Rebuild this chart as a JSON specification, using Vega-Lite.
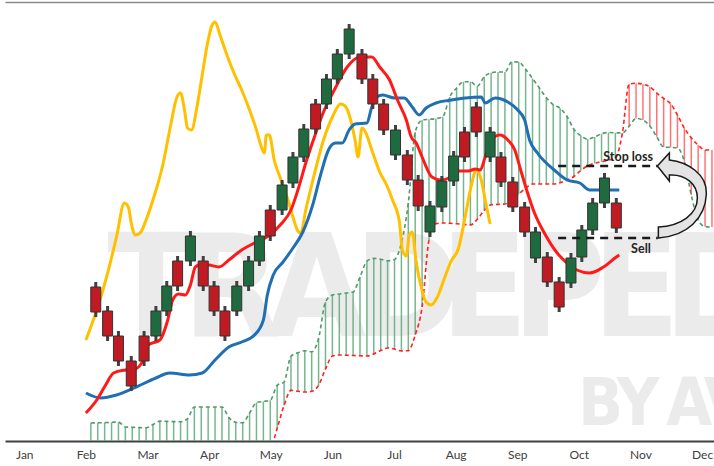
{
  "$schema": "https://vega.github.io/schema/vega-lite/v6.json",
  "width": 709,
  "height": 439,
  "autosize": {"type": "none"},
  "padding": {"left": 5, "top": 2, "right": 0, "bottom": 25},
  "background": "#ffffff",
  "config": {"view": {"stroke": null}},
  "resolve": {"axis": {"x": "independent"}},
  "datasets": {
    "wm1": [
      {"ch": "T", "t": 2.056, "p": 4.2}, {"ch": "R", "t": 3.368, "p": 4.2}, {"ch": "A", "t": 4.744, "p": 4.2},
      {"ch": "D", "t": 6.216, "p": 4.2}, {"ch": "E", "t": 7.464, "p": 4.2}, {"ch": "P", "t": 8.68, "p": 4.2},
      {"ch": "E", "t": 9.928, "p": 4.2}, {"ch": "D", "t": 11.24, "p": 4.2}
    ],
    "wm2": [
      {"ch": "B", "t": 9.352, "p": 0.64}, {"ch": "Y", "t": 9.96, "p": 0.64}, {"ch": "A", "t": 10.792, "p": 0.64}, {"ch": "V", "t": 11.4, "p": 0.64}
    ],
    "cloud": [
      {"t": 1.08, "a": 0.72, "b": -1.16}, {"t": 1.192, "a": 0.728, "b": -1.16}, {"t": 1.304, "a": 0.736, "b": -1.16},
      {"t": 1.416, "a": 0.748, "b": -1.16}, {"t": 1.528, "a": 0.756, "b": -1.16}, {"t": 1.64, "a": 0.56, "b": -1.16},
      {"t": 1.752, "a": 0.548, "b": -1.16}, {"t": 1.864, "a": 0.536, "b": -1.16}, {"t": 1.976, "a": 0.528, "b": -1.16},
      {"t": 2.088, "a": 0.66, "b": -1.16}, {"t": 2.2, "a": 0.796, "b": -1.16}, {"t": 2.312, "a": 0.784, "b": -1.16},
      {"t": 2.424, "a": 0.776, "b": -1.16}, {"t": 2.536, "a": 0.768, "b": -1.16}, {"t": 2.648, "a": 0.892, "b": -1.16},
      {"t": 2.76, "a": 1.36, "b": -1.16}, {"t": 2.872, "a": 1.36, "b": -1.16}, {"t": 2.984, "a": 1.36, "b": -1.16},
      {"t": 3.096, "a": 1.36, "b": -1.16}, {"t": 3.208, "a": 1.36, "b": -1.16}, {"t": 3.32, "a": 0.94, "b": -1.16},
      {"t": 3.432, "a": 0.748, "b": -1.16}, {"t": 3.544, "a": 0.728, "b": -1.16}, {"t": 3.656, "a": 1.12, "b": -1.16},
      {"t": 3.768, "a": 1.536, "b": -1.16}, {"t": 3.88, "a": 1.584, "b": -0.84}, {"t": 3.992, "a": 1.632, "b": -0.4},
      {"t": 4.104, "a": 2.224, "b": 0.504}, {"t": 4.216, "a": 2.36, "b": 1.424}, {"t": 4.328, "a": 3.392, "b": 2.024},
      {"t": 4.44, "a": 3.528, "b": 1.988}, {"t": 4.552, "a": 3.608, "b": 1.96}, {"t": 4.664, "a": 3.568, "b": 1.988},
      {"t": 4.776, "a": 4.104, "b": 2.228}, {"t": 4.888, "a": 5.56, "b": 2.88}, {"t": 5.0, "a": 5.84, "b": 3.396},
      {"t": 5.112, "a": 5.88, "b": 3.44}, {"t": 5.224, "a": 5.92, "b": 3.428}, {"t": 5.336, "a": 5.96, "b": 3.42},
      {"t": 5.448, "a": 6.56, "b": 3.408}, {"t": 5.56, "a": 7.192, "b": 3.4}, {"t": 5.672, "a": 7.304, "b": 3.484},
      {"t": 5.784, "a": 7.272, "b": 3.62}, {"t": 5.896, "a": 7.208, "b": 3.72}, {"t": 6.008, "a": 7.26, "b": 3.68},
      {"t": 6.12, "a": 7.92, "b": 3.604}, {"t": 6.232, "a": 9.52, "b": 3.612}, {"t": 6.344, "a": 12.36, "b": 4.24},
      {"t": 6.456, "a": 12.84, "b": 5.36}, {"t": 6.568, "a": 12.868, "b": 8.04}, {"t": 6.68, "a": 12.896, "b": 8.688},
      {"t": 6.792, "a": 12.968, "b": 8.72}, {"t": 6.904, "a": 13.76, "b": 8.708}, {"t": 7.016, "a": 14.12, "b": 8.688},
      {"t": 7.128, "a": 14.368, "b": 8.664}, {"t": 7.24, "a": 14.372, "b": 8.644}, {"t": 7.352, "a": 14.188, "b": 8.872},
      {"t": 7.464, "a": 14.572, "b": 9.216}, {"t": 7.576, "a": 14.728, "b": 9.448}, {"t": 7.688, "a": 14.76, "b": 9.464},
      {"t": 7.8, "a": 14.76, "b": 9.48}, {"t": 7.912, "a": 15.168, "b": 9.672}, {"t": 8.024, "a": 15.16, "b": 9.872},
      {"t": 8.136, "a": 14.868, "b": 10.112}, {"t": 8.248, "a": 14.504, "b": 10.28}, {"t": 8.36, "a": 14.12, "b": 10.28},
      {"t": 8.472, "a": 13.732, "b": 10.28}, {"t": 8.584, "a": 13.452, "b": 10.28}, {"t": 8.696, "a": 13.308, "b": 10.328},
      {"t": 8.808, "a": 12.98, "b": 10.44}, {"t": 8.92, "a": 12.468, "b": 10.58}, {"t": 9.032, "a": 12.208, "b": 10.824},
      {"t": 9.144, "a": 12.076, "b": 11.008}, {"t": 9.256, "a": 12.16, "b": 11.108}, {"t": 9.368, "a": 12.292, "b": 11.168},
      {"t": 9.48, "a": 12.34, "b": 11.232}, {"t": 9.592, "a": 12.328, "b": 11.32}, {"t": 9.704, "a": 12.316, "b": 12.28},
      {"t": 9.816, "a": 12.588, "b": 14.28}, {"t": 9.928, "a": 12.904, "b": 14.308}, {"t": 10.04, "a": 12.84, "b": 14.268},
      {"t": 10.152, "a": 12.596, "b": 14.172}, {"t": 10.264, "a": 12.172, "b": 13.92}, {"t": 10.376, "a": 11.756, "b": 13.7},
      {"t": 10.488, "a": 11.744, "b": 13.496}, {"t": 10.6, "a": 11.724, "b": 13.04}, {"t": 10.712, "a": 11.176, "b": 12.516},
      {"t": 10.824, "a": 9.84, "b": 12.128}, {"t": 10.936, "a": 8.84, "b": 11.836}, {"t": 11.048, "a": 8.576, "b": 11.64},
      {"t": 11.16, "a": 8.56, "b": 11.64}
    ],
    "chikou": [
      {"t": 1.0, "p": 4.04}, {"t": 1.176, "p": 5.24}, {"t": 1.336, "p": 6.56}, {"t": 1.496, "p": 8.16}, {"t": 1.624, "p": 9.52},
      {"t": 1.688, "p": 9.36}, {"t": 1.736, "p": 8.72}, {"t": 1.8, "p": 8.24}, {"t": 1.88, "p": 8.32}, {"t": 1.976, "p": 8.84},
      {"t": 2.088, "p": 9.64}, {"t": 2.248, "p": 11.04}, {"t": 2.376, "p": 12.64}, {"t": 2.472, "p": 13.72}, {"t": 2.536, "p": 13.92},
      {"t": 2.6, "p": 13.24}, {"t": 2.648, "p": 12.52}, {"t": 2.712, "p": 12.44}, {"t": 2.808, "p": 13.44}, {"t": 2.888, "p": 14.64},
      {"t": 2.968, "p": 15.84}, {"t": 3.048, "p": 16.64}, {"t": 3.096, "p": 16.76}, {"t": 3.176, "p": 16.24}, {"t": 3.288, "p": 15.44},
      {"t": 3.416, "p": 14.64}, {"t": 3.528, "p": 14.04}, {"t": 3.656, "p": 13.24}, {"t": 3.768, "p": 12.44}, {"t": 3.848, "p": 11.76},
      {"t": 3.896, "p": 11.52}, {"t": 3.928, "p": 12.24}, {"t": 3.976, "p": 12.24}, {"t": 4.056, "p": 11.24}, {"t": 4.168, "p": 10.44},
      {"t": 4.28, "p": 9.64}, {"t": 4.36, "p": 8.96}, {"t": 4.44, "p": 8.4}, {"t": 4.488, "p": 8.32}, {"t": 4.568, "p": 9.24},
      {"t": 4.696, "p": 10.56}, {"t": 4.856, "p": 12.04}, {"t": 5.016, "p": 13.04}, {"t": 5.128, "p": 13.48}, {"t": 5.208, "p": 13.4},
      {"t": 5.288, "p": 12.92}, {"t": 5.368, "p": 12.04}, {"t": 5.416, "p": 11.36}, {"t": 5.48, "p": 12.52}, {"t": 5.544, "p": 12.32},
      {"t": 5.64, "p": 11.64}, {"t": 5.768, "p": 10.76}, {"t": 5.88, "p": 10.24}, {"t": 5.976, "p": 9.64}, {"t": 6.088, "p": 8.76},
      {"t": 6.136, "p": 7.64}, {"t": 6.2, "p": 7.4}, {"t": 6.248, "p": 8.24}, {"t": 6.296, "p": 8.36}, {"t": 6.36, "p": 7.16},
      {"t": 6.44, "p": 6.16}, {"t": 6.52, "p": 5.56}, {"t": 6.6, "p": 5.44}, {"t": 6.696, "p": 5.72}, {"t": 6.808, "p": 6.44},
      {"t": 6.92, "p": 7.16}, {"t": 7.048, "p": 7.72}, {"t": 7.16, "p": 9.04}, {"t": 7.256, "p": 10.24}, {"t": 7.336, "p": 10.84},
      {"t": 7.416, "p": 10.44}, {"t": 7.48, "p": 9.64}, {"t": 7.56, "p": 8.68}
    ],
    "kijun": [
      {"t": 1.0, "p": 1.92}, {"t": 1.24, "p": 1.72}, {"t": 1.496, "p": 1.84}, {"t": 1.816, "p": 2.16}, {"t": 2.136, "p": 2.52},
      {"t": 2.36, "p": 2.72}, {"t": 2.68, "p": 2.64}, {"t": 2.888, "p": 2.72}, {"t": 3.096, "p": 3.24}, {"t": 3.32, "p": 3.76},
      {"t": 3.528, "p": 3.96}, {"t": 3.736, "p": 4.24}, {"t": 3.88, "p": 4.84}, {"t": 3.944, "p": 5.84}, {"t": 4.04, "p": 6.64},
      {"t": 4.2, "p": 7.16}, {"t": 4.36, "p": 7.72}, {"t": 4.52, "p": 8.36}, {"t": 4.68, "p": 9.44}, {"t": 4.808, "p": 10.64},
      {"t": 4.936, "p": 11.64}, {"t": 5.048, "p": 11.92}, {"t": 5.16, "p": 11.92}, {"t": 5.272, "p": 12.44}, {"t": 5.368, "p": 12.68},
      {"t": 5.56, "p": 12.72}, {"t": 5.64, "p": 13.36}, {"t": 5.72, "p": 13.76}, {"t": 5.816, "p": 13.84}, {"t": 6.008, "p": 13.72},
      {"t": 6.168, "p": 13.72}, {"t": 6.296, "p": 13.36}, {"t": 6.408, "p": 13.04}, {"t": 6.52, "p": 13.32}, {"t": 6.68, "p": 13.52},
      {"t": 6.936, "p": 13.64}, {"t": 7.16, "p": 13.72}, {"t": 7.416, "p": 13.76}, {"t": 7.48, "p": 13.52}, {"t": 7.64, "p": 13.72},
      {"t": 7.848, "p": 13.56}, {"t": 8.008, "p": 13.24}, {"t": 8.12, "p": 12.84}, {"t": 8.2, "p": 12.04}, {"t": 8.328, "p": 11.52},
      {"t": 8.6, "p": 10.84}, {"t": 8.808, "p": 10.44}, {"t": 9.016, "p": 10.32}, {"t": 9.176, "p": 10.04}, {"t": 9.4, "p": 10.04},
      {"t": 9.656, "p": 10.04}
    ],
    "tenkan": [
      {"t": 1.0, "p": 1.12}, {"t": 1.176, "p": 1.64}, {"t": 1.32, "p": 2.24}, {"t": 1.448, "p": 2.72}, {"t": 1.64, "p": 2.84},
      {"t": 1.8, "p": 2.88}, {"t": 1.928, "p": 3.24}, {"t": 2.008, "p": 3.84}, {"t": 2.2, "p": 4.04}, {"t": 2.328, "p": 4.84},
      {"t": 2.408, "p": 5.64}, {"t": 2.504, "p": 5.88}, {"t": 2.616, "p": 5.84}, {"t": 2.696, "p": 6.24}, {"t": 2.776, "p": 6.96},
      {"t": 2.888, "p": 7.08}, {"t": 3.0, "p": 7.04}, {"t": 3.16, "p": 6.96}, {"t": 3.32, "p": 7.24}, {"t": 3.528, "p": 7.64},
      {"t": 3.736, "p": 7.92}, {"t": 3.96, "p": 8.2}, {"t": 4.168, "p": 8.68}, {"t": 4.328, "p": 9.24}, {"t": 4.44, "p": 10.04},
      {"t": 4.568, "p": 11.12}, {"t": 4.68, "p": 11.96}, {"t": 4.856, "p": 13.16}, {"t": 5.048, "p": 14.12}, {"t": 5.24, "p": 14.96},
      {"t": 5.448, "p": 15.36}, {"t": 5.64, "p": 15.36}, {"t": 5.768, "p": 14.96}, {"t": 5.928, "p": 14.44}, {"t": 6.056, "p": 13.64},
      {"t": 6.2, "p": 12.84}, {"t": 6.28, "p": 12.16}, {"t": 6.36, "p": 11.92}, {"t": 6.456, "p": 11.36}, {"t": 6.616, "p": 10.56},
      {"t": 6.76, "p": 10.44}, {"t": 6.888, "p": 10.52}, {"t": 7.048, "p": 10.8}, {"t": 7.208, "p": 10.8}, {"t": 7.32, "p": 10.88},
      {"t": 7.4, "p": 10.84}, {"t": 7.48, "p": 11.36}, {"t": 7.576, "p": 12.04}, {"t": 7.72, "p": 12.24}, {"t": 7.848, "p": 12.04},
      {"t": 7.96, "p": 11.64}, {"t": 8.056, "p": 10.84}, {"t": 8.168, "p": 9.92}, {"t": 8.28, "p": 9.12}, {"t": 8.44, "p": 8.32},
      {"t": 8.648, "p": 7.52}, {"t": 8.808, "p": 7.12}, {"t": 8.968, "p": 6.84}, {"t": 9.176, "p": 6.72}, {"t": 9.4, "p": 6.96},
      {"t": 9.608, "p": 7.36}, {"t": 9.656, "p": 7.44}
    ],
    "candles": [
      {"t": 1.16, "o": 6.16, "c": 5.16, "h": 6.36, "l": 4.96}, {"t": 1.352, "o": 5.2, "c": 4.2, "h": 5.4, "l": 4.0},
      {"t": 1.528, "o": 4.2, "c": 3.2, "h": 4.4, "l": 3.0}, {"t": 1.736, "o": 3.2, "c": 2.2, "h": 3.4, "l": 2.0},
      {"t": 1.944, "o": 4.2, "c": 3.2, "h": 4.4, "l": 3.0}, {"t": 2.136, "o": 4.2, "c": 5.2, "h": 5.4, "l": 4.0},
      {"t": 2.312, "o": 5.2, "c": 6.2, "h": 6.4, "l": 5.0}, {"t": 2.488, "o": 7.2, "c": 6.2, "h": 7.4, "l": 6.0},
      {"t": 2.696, "o": 7.2, "c": 8.2, "h": 8.4, "l": 7.0}, {"t": 2.904, "o": 7.2, "c": 6.2, "h": 7.4, "l": 6.0},
      {"t": 3.08, "o": 6.2, "c": 5.2, "h": 6.4, "l": 5.0}, {"t": 3.256, "o": 5.2, "c": 4.2, "h": 5.4, "l": 4.0},
      {"t": 3.448, "o": 5.2, "c": 6.2, "h": 6.4, "l": 5.0}, {"t": 3.64, "o": 6.2, "c": 7.2, "h": 7.4, "l": 6.0},
      {"t": 3.816, "o": 7.2, "c": 8.2, "h": 8.4, "l": 7.0}, {"t": 3.992, "o": 9.24, "c": 8.2, "h": 9.44, "l": 8.0},
      {"t": 4.184, "o": 9.24, "c": 10.24, "h": 10.44, "l": 9.04}, {"t": 4.36, "o": 10.32, "c": 11.36, "h": 11.56, "l": 10.12},
      {"t": 4.536, "o": 11.36, "c": 12.48, "h": 12.68, "l": 11.16}, {"t": 4.728, "o": 13.48, "c": 12.48, "h": 13.68, "l": 12.28},
      {"t": 4.904, "o": 13.48, "c": 14.48, "h": 14.68, "l": 13.28}, {"t": 5.08, "o": 14.48, "c": 15.48, "h": 15.68, "l": 14.28},
      {"t": 5.272, "o": 15.48, "c": 16.48, "h": 16.68, "l": 15.28}, {"t": 5.48, "o": 15.48, "c": 14.48, "h": 15.68, "l": 14.28},
      {"t": 5.656, "o": 14.48, "c": 13.48, "h": 14.68, "l": 13.28}, {"t": 5.832, "o": 13.48, "c": 12.44, "h": 13.68, "l": 12.24},
      {"t": 6.024, "o": 11.44, "c": 12.44, "h": 12.64, "l": 11.24}, {"t": 6.216, "o": 11.44, "c": 10.44, "h": 11.64, "l": 10.24},
      {"t": 6.392, "o": 10.44, "c": 9.4, "h": 10.64, "l": 9.2}, {"t": 6.584, "o": 8.36, "c": 9.4, "h": 9.6, "l": 8.16},
      {"t": 6.776, "o": 9.36, "c": 10.4, "h": 10.6, "l": 9.16}, {"t": 6.968, "o": 10.4, "c": 11.4, "h": 11.6, "l": 10.2},
      {"t": 7.144, "o": 12.36, "c": 11.36, "h": 12.56, "l": 11.16}, {"t": 7.336, "o": 13.36, "c": 12.36, "h": 13.56, "l": 12.16},
      {"t": 7.56, "o": 11.36, "c": 12.36, "h": 12.56, "l": 11.16}, {"t": 7.736, "o": 11.36, "c": 10.36, "h": 11.56, "l": 10.16},
      {"t": 7.928, "o": 10.36, "c": 9.36, "h": 10.56, "l": 9.16}, {"t": 8.12, "o": 9.36, "c": 8.36, "h": 9.56, "l": 8.16},
      {"t": 8.296, "o": 7.32, "c": 8.36, "h": 8.56, "l": 7.12}, {"t": 8.488, "o": 7.36, "c": 6.36, "h": 7.56, "l": 6.16},
      {"t": 8.68, "o": 6.36, "c": 5.36, "h": 6.56, "l": 5.16}, {"t": 8.872, "o": 6.32, "c": 7.32, "h": 7.52, "l": 6.12},
      {"t": 9.048, "o": 7.36, "c": 8.44, "h": 8.64, "l": 7.16}, {"t": 9.224, "o": 8.44, "c": 9.52, "h": 9.72, "l": 8.24},
      {"t": 9.416, "o": 9.52, "c": 10.52, "h": 10.72, "l": 9.32}, {"t": 9.608, "o": 9.52, "c": 8.52, "h": 9.72, "l": 8.32}
    ],
    "levels": [
      {"name": "Stop loss", "t1": 8.664, "t2": 10.28, "p": 11.0},
      {"name": "Sell", "t1": 8.664, "t2": 10.28, "p": 8.12}
    ],
    "labels": [
      {"s": "Stop loss", "t": 9.8, "p": 11.36},
      {"s": "Sell", "t": 10.008, "p": 7.68}
    ],
    "arrow": [{"t": 10.696, "p": 9.56}]
  },
  "layer": [
    {
      "data": {"name": "wm1"},
      "mark": {"type": "text", "font": "Liberation Sans Narrow, DejaVu Sans Condensed, sans-serif", "fontWeight": "bold", "fontSize": 142, "align": "center", "baseline": "alphabetic", "color": "#ebebeb", "clip": true},
      "encoding": {
        "x": {"field": "t", "type": "quantitative", "scale": {"domain": [-0.232, 11.112], "nice": false, "zero": false},
              "axis": {"orient": "top", "labels": false, "ticks": false, "grid": false, "domain": true, "domainColor": "#8a8a8a", "domainWidth": 1.5, "title": null}},
        "y": {"field": "p", "type": "quantitative", "scale": {"domain": [0, 17.56], "nice": false, "zero": false}, "axis": null},
        "text": {"field": "ch", "type": "nominal"}
      }
    },
    {
      "data": {"name": "wm2"},
      "mark": {"type": "text", "font": "Liberation Sans Narrow, DejaVu Sans Condensed, sans-serif", "fontWeight": "bold", "fontSize": 66, "align": "center", "baseline": "alphabetic", "color": "#ebebeb", "clip": true},
      "encoding": {
        "x": {"field": "t", "type": "quantitative", "scale": {"domain": [-0.232, 11.112], "nice": false, "zero": false}, "axis": null},
        "y": {"field": "p", "type": "quantitative", "scale": {"domain": [0, 17.56], "nice": false, "zero": false}, "axis": null},
        "text": {"field": "ch", "type": "nominal"}
      }
    },
    {
      "data": {"name": "cloud"},
      "mark": {"type": "rule", "strokeWidth": 1.5, "clip": true, "opacity": 0.85},
      "encoding": {
        "x": {"field": "t", "type": "quantitative", "scale": {"domain": [-0.232, 11.112], "nice": false, "zero": false},
              "axis": {"orient": "bottom", "values": [0, 1, 2, 3, 4, 5, 6, 7, 8, 9, 10, 11],
                       "labelExpr": "['Jan','Feb','Mar','Apr','May','Jun','Jul','Aug','Sep','Oct','Nov','Dec'][datum.value]",
                       "ticks": false, "grid": false, "domain": true, "domainColor": "#404040", "domainWidth": 2,
                       "labelFont": "Lato", "labelFontSize": 12, "labelColor": "#404040", "labelPadding": 8,
                       "labelBaseline": "top", "labelFlush": false, "labelOverlap": false, "labelBound": false, "title": null}},
        "y": {"field": "a", "type": "quantitative", "scale": {"domain": [0, 17.56], "nice": false, "zero": false},
              "axis": {"orient": "left", "labels": false, "ticks": false, "grid": false, "domain": true, "domainColor": "#404040", "domainWidth": 2, "title": null}},
        "y2": {"field": "b"},
        "color": {"condition": {"test": "datum.a >= datum.b", "value": "#5ea97a"}, "value": "#ff5a5a"}
      }
    },
    {
      "data": {"name": "cloud"},
      "mark": {"type": "line", "strokeDash": [4, 3], "strokeWidth": 1.6, "color": "#4f9a6a", "interpolate": "monotone", "clip": true},
      "encoding": {
        "x": {"field": "t", "type": "quantitative", "scale": {"domain": [-0.232, 11.112], "nice": false, "zero": false}, "axis": null},
        "y": {"field": "a", "type": "quantitative", "scale": {"domain": [0, 17.56], "nice": false, "zero": false}, "axis": null}
      }
    },
    {
      "data": {"name": "cloud"},
      "mark": {"type": "line", "strokeDash": [4, 3], "strokeWidth": 1.6, "color": "#ff2020", "interpolate": "monotone", "clip": true},
      "encoding": {
        "x": {"field": "t", "type": "quantitative", "scale": {"domain": [-0.232, 11.112], "nice": false, "zero": false}, "axis": null},
        "y": {"field": "b", "type": "quantitative", "scale": {"domain": [0, 17.56], "nice": false, "zero": false}, "axis": null}
      }
    },
    {
      "data": {"name": "chikou"},
      "mark": {"type": "line", "strokeWidth": 3, "color": "#ffc000", "interpolate": "monotone"},
      "encoding": {
        "x": {"field": "t", "type": "quantitative", "scale": {"domain": [-0.232, 11.112], "nice": false, "zero": false}, "axis": null},
        "y": {"field": "p", "type": "quantitative", "scale": {"domain": [0, 17.56], "nice": false, "zero": false}, "axis": null}
      }
    },
    {
      "data": {"name": "kijun"},
      "mark": {"type": "line", "strokeWidth": 3, "color": "#1f6fb2", "interpolate": "monotone"},
      "encoding": {
        "x": {"field": "t", "type": "quantitative", "scale": {"domain": [-0.232, 11.112], "nice": false, "zero": false}, "axis": null},
        "y": {"field": "p", "type": "quantitative", "scale": {"domain": [0, 17.56], "nice": false, "zero": false}, "axis": null}
      }
    },
    {
      "data": {"name": "tenkan"},
      "mark": {"type": "line", "strokeWidth": 3, "color": "#ff1a1a", "interpolate": "monotone"},
      "encoding": {
        "x": {"field": "t", "type": "quantitative", "scale": {"domain": [-0.232, 11.112], "nice": false, "zero": false}, "axis": null},
        "y": {"field": "p", "type": "quantitative", "scale": {"domain": [0, 17.56], "nice": false, "zero": false}, "axis": null}
      }
    },
    {
      "data": {"name": "candles"},
      "mark": {"type": "rule", "strokeWidth": 3, "color": "#404040"},
      "encoding": {
        "x": {"field": "t", "type": "quantitative", "scale": {"domain": [-0.232, 11.112], "nice": false, "zero": false}, "axis": null},
        "y": {"field": "h", "type": "quantitative", "scale": {"domain": [0, 17.56], "nice": false, "zero": false}, "axis": null},
        "y2": {"field": "l"}
      }
    },
    {
      "data": {"name": "candles"},
      "mark": {"type": "bar", "width": 10, "stroke": "#333333", "strokeWidth": 1},
      "encoding": {
        "x": {"field": "t", "type": "quantitative", "scale": {"domain": [-0.232, 11.112], "nice": false, "zero": false}, "axis": null},
        "y": {"field": "o", "type": "quantitative", "scale": {"domain": [0, 17.56], "nice": false, "zero": false}, "axis": null},
        "y2": {"field": "c"},
        "fill": {"condition": {"test": "datum.c > datum.o", "value": "#1f6b3f"}, "value": "#c01a22"}
      }
    },
    {
      "data": {"name": "levels"},
      "mark": {"type": "rule", "strokeWidth": 2.5, "strokeDash": [8, 6], "color": "#1a1a1a"},
      "encoding": {
        "x": {"field": "t1", "type": "quantitative", "scale": {"domain": [-0.232, 11.112], "nice": false, "zero": false}, "axis": null},
        "x2": {"field": "t2"},
        "y": {"field": "p", "type": "quantitative", "scale": {"domain": [0, 17.56], "nice": false, "zero": false}, "axis": null}
      }
    },
    {
      "data": {"name": "labels"},
      "mark": {"type": "text", "font": "Lato", "fontWeight": "bold", "fontSize": 12.5, "color": "#262626", "align": "center", "baseline": "middle"},
      "encoding": {
        "x": {"field": "t", "type": "quantitative", "scale": {"domain": [-0.232, 11.112], "nice": false, "zero": false}, "axis": null},
        "y": {"field": "p", "type": "quantitative", "scale": {"domain": [0, 17.56], "nice": false, "zero": false}, "axis": null},
        "text": {"field": "s", "type": "nominal"}
      }
    },
    {
      "data": {"name": "arrow"},
      "mark": {"type": "point", "shape": "M -0.65 -0.9 L -0.35 -1.225 L -0.35 -1.05 C 0.1 -1.0 0.6 -0.7 0.575 -0.2 C 0.55 0.4 0.1 0.85 -0.625 0.9 L -0.625 0.625 C -0.05 0.6 0.35 0.3 0.35 -0.1 C 0.35 -0.45 0.05 -0.7 -0.35 -0.675 L -0.35 -0.525 Z",
               "size": 6400, "filled": true, "fill": "#e4e4e4", "stroke": "#1a1a1a", "strokeWidth": 1.5, "opacity": 1},
      "encoding": {
        "x": {"field": "t", "type": "quantitative", "scale": {"domain": [-0.232, 11.112], "nice": false, "zero": false}, "axis": null},
        "y": {"field": "p", "type": "quantitative", "scale": {"domain": [0, 17.56], "nice": false, "zero": false}, "axis": null}
      }
    }
  ]
}
